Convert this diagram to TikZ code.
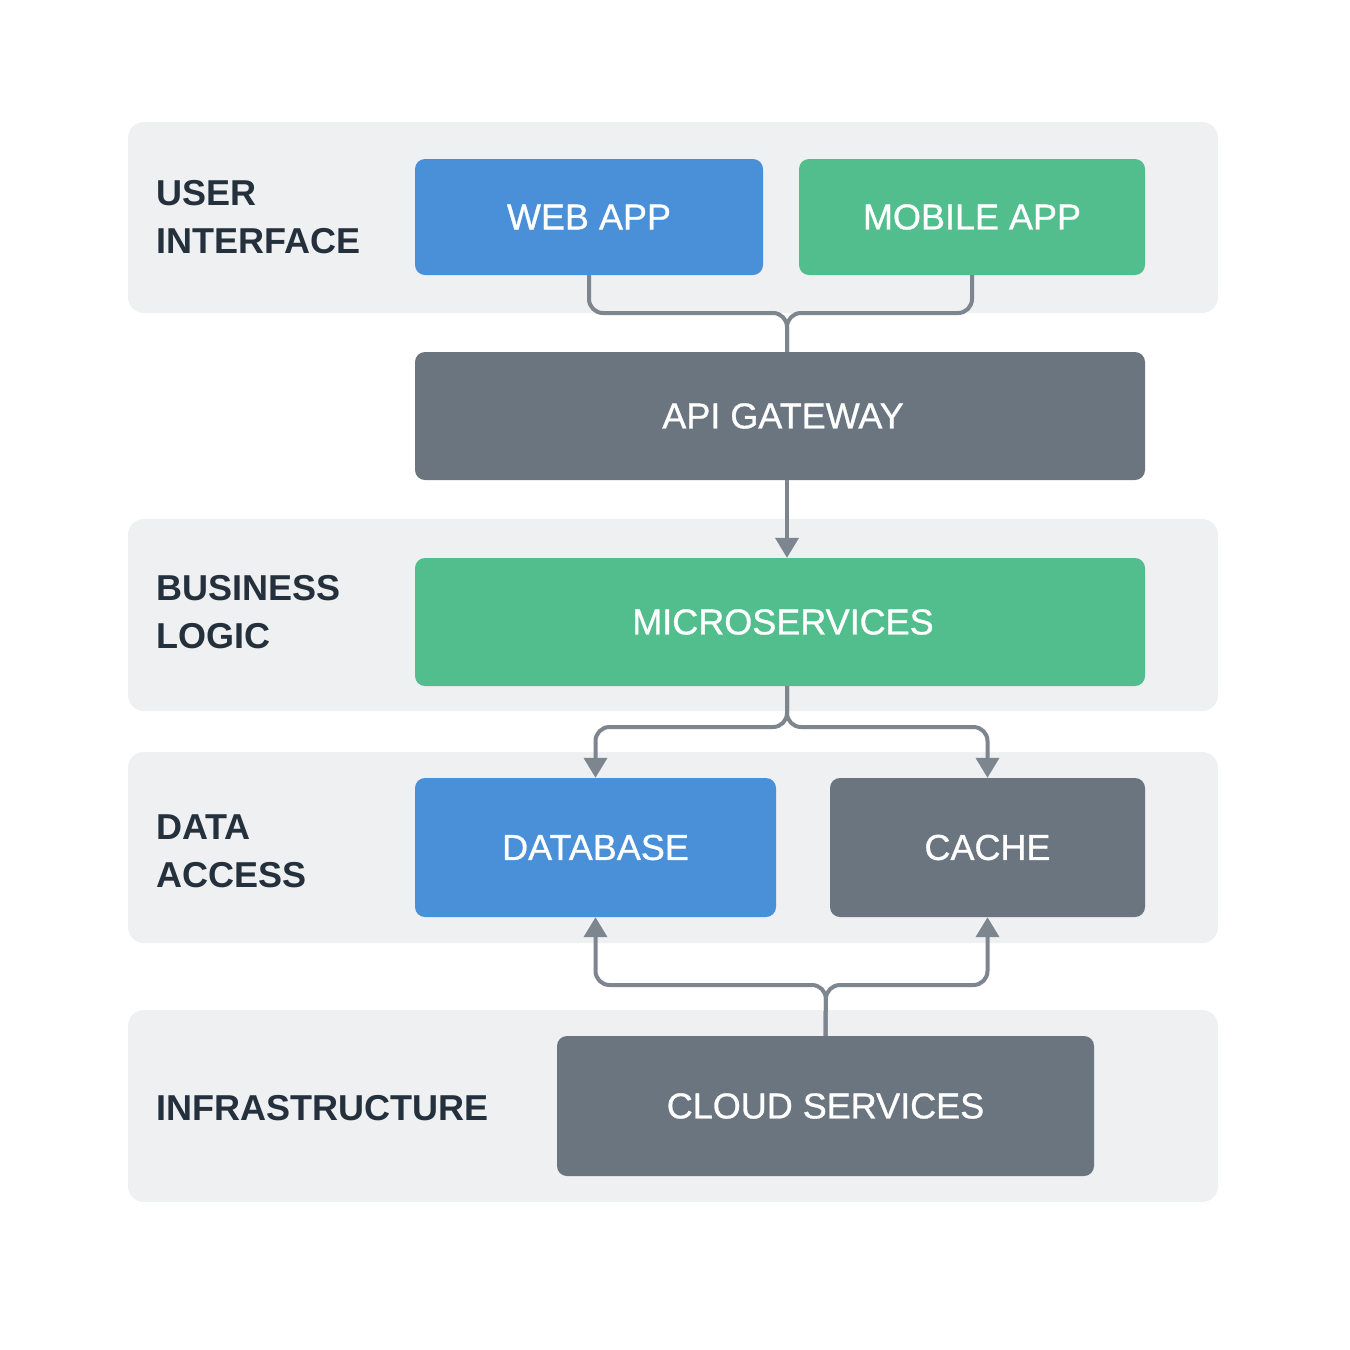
\documentclass[tikz,border=0pt]{standalone}
\usepackage{fontspec}
\setmainfont{Liberation Sans}
\newfontfamily\medfont[FakeBold=0.8]{Liberation Sans}
\usetikzlibrary{arrows.meta}
\definecolor{bandc}{HTML}{EEF0F2}
\definecolor{bluec}{HTML}{4A90D9}
\definecolor{greenc}{HTML}{52BE8E}
\definecolor{grayc}{HTML}{6B7580}
\definecolor{connc}{HTML}{7D858E}
\definecolor{labelc}{HTML}{25303D}
\tikzset{
  band/.style={fill=bandc, draw=none, rounded corners=16pt},
  box/.style={draw=none, rounded corners=10pt, text=white, inner sep=0pt,
    font=\medfont\fontsize{36}{44}\selectfont},
  lab/.style={text=labelc, anchor=west, align=left, inner sep=0pt,
    font=\bfseries\fontsize{36}{48}\selectfont},
  conn/.style={draw=connc, line width=4pt, rounded corners=14pt},
  tip/.style={-{Triangle[width=23pt,length=20pt]}},
}
\begin{document}
\begin{tikzpicture}[x=1pt,y=-1pt]
\useasboundingbox (0,0) rectangle (1350,1350);
\fill[white] (0,0) rectangle (1350,1350);
% bands
\path[band] (128,122) rectangle (1218,313);
\path[band] (128,519) rectangle (1218,711);
\path[band] (128,752) rectangle (1218,943);
\path[band] (128,1010) rectangle (1218,1202);
% labels
\node[lab] (l1) at (156,217) {USER\\INTERFACE};
\node[lab] (l2) at (156,612) {BUSINESS\\LOGIC};
\node[lab] (l3) at (156,851) {DATA\\ACCESS};
\node[lab] (l4) at (156,1108) {INFRASTRUCTURE};
% boxes
\node[box, fill=bluec, minimum width=348pt, minimum height=116pt] (web) at (589,217) {WEB APP};
\node[box, fill=greenc, minimum width=346pt, minimum height=116pt] (mob) at (972,217) {MOBILE APP};
\node[box, fill=grayc, minimum width=730pt, minimum height=128pt] (api) at (780,416) {\hspace*{6pt}API GATEWAY};
\node[box, fill=greenc, minimum width=730pt, minimum height=128pt] (mic) at (780,622) {\hspace*{6pt}MICROSERVICES};
\node[box, fill=bluec, minimum width=361pt, minimum height=139pt] (db) at (595.5,847.5) {DATABASE};
\node[box, fill=grayc, minimum width=315pt, minimum height=139pt] (cache) at (987.5,847.5) {CACHE};
\node[box, fill=grayc, minimum width=537pt, minimum height=140pt] (cloud) at (825.5,1106) {CLOUD SERVICES};
% junction coordinates
\coordinate (j1) at (787,313);
\coordinate (j2) at (787,727);
\coordinate (j3) at (826,985);
% connectors
\draw[conn] (web.south) |- (j1) -- (api.north -| j1);
\draw[conn] (mob.south) |- (j1) -- (api.north -| j1);
\draw[conn, tip] (api.south -| j1) -- (mic.north -| j1);
\draw[conn, tip] (mic.south -| j2) -- (j2) -| (db.north);
\draw[conn, tip] (mic.south -| j2) -- (j2) -| (cache.north);
\draw[conn, tip] (cloud.north) -- (j3) -| (db.south);
\draw[conn, tip] (cloud.north) -- (j3) -| (cache.south);
\end{tikzpicture}
\end{document}
